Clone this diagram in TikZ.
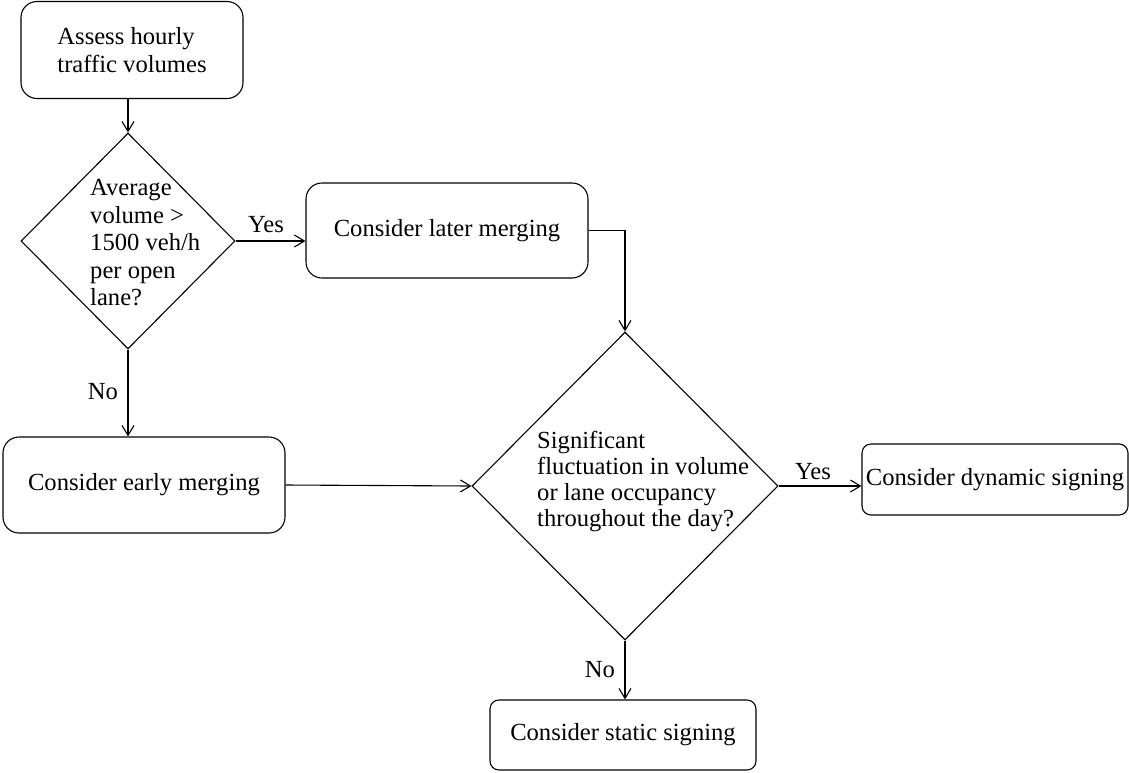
\documentclass[tikz,border=0pt]{standalone}
\usepackage{fontspec}
\setmainfont{Liberation Serif}
\usetikzlibrary{shapes.geometric,arrows.meta}
\begin{document}
\begin{tikzpicture}[x=1pt,y=-1pt,
  every node/.style={font=\fontsize{24.6}{27.5}\selectfont, text=black},
  proc/.style={draw, rounded corners=16pt, line width=1.1pt, inner sep=0pt},
  term/.style={draw, rounded corners=9pt, line width=1.1pt, inner sep=0pt},
  decis/.style={draw, diamond, line width=1.1pt, inner sep=0pt},
  conn/.style={line width=1.1pt, -{Straight Barb[length=10pt,width=12pt,line width=1.1pt]}},
  lbl/.style={inner sep=0pt}]
\useasboundingbox (0,0) rectangle (1129,772);
\node[proc, minimum width=222pt, minimum height=97pt, align=left] (assess) at (132,50) {Assess hourly\\traffic volumes};
\node[decis, minimum width=214pt, minimum height=216pt] (d1) at (128,241) {};
\node[lbl, anchor=west, align=left] (d1t) at (90,243) {Average\\volume >\\1500 veh/h\\per open\\lane?};
\node[proc, minimum width=282pt, minimum height=95pt] (later) at (447,230.5) {Consider later merging};
\node[proc, minimum width=282pt, minimum height=96pt] (early) at (144,485) {Consider early merging};
\node[decis, minimum width=306pt, minimum height=308pt] (d2) at (625,486) {};
\node[lbl, anchor=west, align=left, font=\fontsize{24.6}{26}\selectfont] (d2t) at (537,481) {Significant\\fluctuation in volume\\or lane occupancy\\throughout the day?};
\node[term, minimum width=266pt, minimum height=71pt] (dyn) at (995,479.5) {Consider dynamic signing};
\node[term, minimum width=266pt, minimum height=70pt] (stat) at (623,735) {Consider static signing};
\node[lbl] (yes1) at (266,225) {Yes};
\node[lbl] (no1) at (103,392) {No};
\node[lbl] (yes2) at (813,472) {Yes};
\node[lbl] (no2) at (600,670) {No};
\draw[conn] (d1.north |- assess.south) -- (d1.north);
\draw[conn] (d1.east) -- (d1.east -| later.west);
\draw[conn] (later.east) -| (d2.north);
\draw[conn] (d1.south) -- (d1.south |- early.north);
\draw[conn] (early.east) -- (d2.west);
\draw[conn] (d2.east) -- (d2.east -| dyn.west);
\draw[conn] (d2.south) -- (d2.south |- stat.north);
\end{tikzpicture}
\end{document}
